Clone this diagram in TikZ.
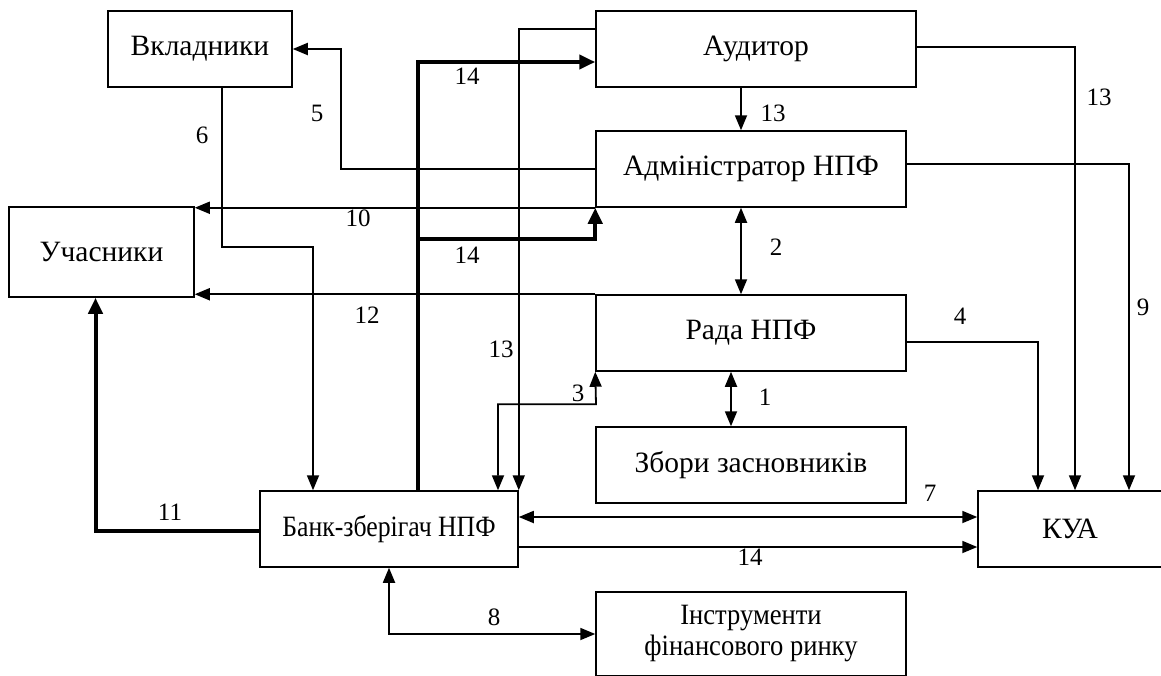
\documentclass[tikz,border=0pt]{standalone}
\usepackage{fontspec}
\setmainfont{Liberation Serif}
\usetikzlibrary{arrows.meta}
\tikzset{
  box/.style={draw, line width=1.5pt, inner sep=0pt, align=center, font=\fontsize{29.5}{31}\selectfont},
  lbl/.style={font=\fontsize{25}{27}\selectfont, inner sep=0pt},
  arr/.style={line width=1.8pt, -{Triangle[length=15pt,width=12pt]}},
  dblarr/.style={line width=1.8pt, {Triangle[length=15pt,width=12pt]}-{Triangle[length=15pt,width=12pt]}},
  thickarr/.style={line width=4pt, -{Triangle[length=16pt,width=14pt]}}
}
\begin{document}
\begin{tikzpicture}[x=1pt,y=-1pt]
\useasboundingbox (0,0) rectangle (1161,675);
% boxes
\node[box, minimum width=184pt, minimum height=76pt] (vkl) at (200,49) {Вкладники};
\node[box, minimum width=185pt, minimum height=90pt] (uch) at (101.5,252) {Учасники};
\node[box, minimum width=320pt, minimum height=76pt] (aud) at (756,49) {Аудитор};
\node[box, minimum width=310pt, minimum height=76pt] (adm) at (751,169) {Адміністратор НПФ};
\node[box, minimum width=310pt, minimum height=76pt] (rada) at (751,333) {Рада НПФ};
\node[box, minimum width=310pt, minimum height=76pt] (zbory) at (751,465) {Збори засновників};
\node[box, minimum width=258pt, minimum height=76pt] (bank) at (389,529) {\scalebox{0.873}[1]{Банк-зберігач НПФ}};
\node[box, minimum width=184pt, minimum height=76pt] (kua) at (1070,529) {КУА};
\node[box, minimum width=310pt, minimum height=84pt] (instr) at (751,634) {\scalebox{0.9}[1]{Інструменти}\\\scalebox{0.9}[1]{фінансового ринку}};
% connectors
\draw[arr] (adm.west) -- ++(-254,0) |- (vkl.east);
\draw[arr] ([xshift=22pt]vkl.south) |- (313,247) -- ([xshift=-76pt]bank.north);
\draw[arr] (adm.south west) -- (adm.south west -| uch.east);
\draw[arr] (rada.north west) -- (rada.north west -| uch.east);
\draw[thickarr] ([xshift=29pt]bank.north) |- ([yshift=-13pt]aud.west);
\coordinate (j14) at (418,239);
\draw[thickarr] (j14) -| (adm.south west);
\draw[arr] ([yshift=20pt]aud.west) -| (bank.north east);
\draw[arr] ([xshift=-15pt]aud.south) -- ([xshift=-10pt]adm.north);
\draw[dblarr] ([xshift=-10pt]adm.south) -- ([xshift=-10pt]rada.north);
\draw[dblarr] ([xshift=-20pt]rada.south) -- ([xshift=-20pt]zbory.north);
\draw[dblarr] ([xshift=109pt]bank.north) |- ++(98,-86) -- (rada.south west);
\draw[arr] ([yshift=-9pt]rada.east) -| ([xshift=-32pt]kua.north);
\draw[arr] ([yshift=2pt]aud.east) -| ([xshift=5pt]kua.north);
\draw[arr] ([yshift=5pt]adm.east) -| ([xshift=59pt]kua.north);
\draw[dblarr] ([yshift=12pt]bank.east) -- ([yshift=12pt]kua.west);
\draw[arr] ([yshift=-18pt]bank.east) -- ([yshift=-18pt]kua.west);
\draw[thickarr] ([yshift=-2pt]bank.west) -| ([xshift=-6pt]uch.south);
\draw[dblarr] (bank.south) |- (instr.west);
% labels
\node[lbl] (l5) at (317,113) {5};
\node[lbl] (l6) at (202,135) {6};
\node[lbl] (l10) at (358,218) {10};
\node[lbl] (l12) at (367,315) {12};
\node[lbl] (l14a) at (467,76) {14};
\node[lbl] (l14b) at (467,255) {14};
\node[lbl] (l13a) at (501,349) {13};
\node[lbl] (l13b) at (773,113) {13};
\node[lbl] (l2) at (776,247) {2};
\node[lbl] (l1) at (765,397) {1};
\node[lbl] (l3) at (578,393) {3};
\node[lbl] (l4) at (960,316) {4};
\node[lbl] (l13c) at (1099,97) {13};
\node[lbl] (l9) at (1143,307) {9};
\node[lbl] (l7) at (930,493) {7};
\node[lbl] (l14c) at (750,557) {14};
\node[lbl] (l11) at (170,512) {11};
\node[lbl] (l8) at (494,617) {8};
\end{tikzpicture}
\end{document}
